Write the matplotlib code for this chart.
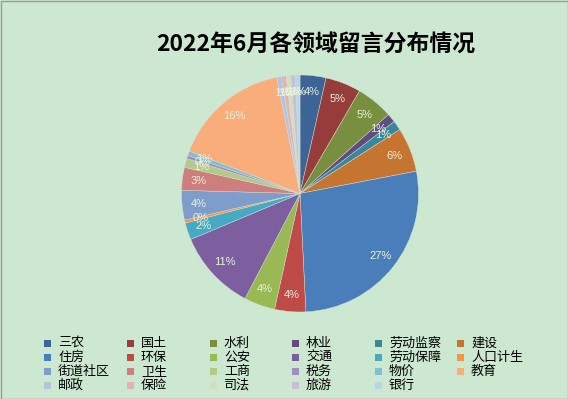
import matplotlib
matplotlib.use("Agg")
import matplotlib.pyplot as plt
from matplotlib.patches import Rectangle

categories = ["三农", "国土", "水利", "林业", "劳动监察", "建设",
              "住房", "环保", "公安", "交通", "劳动保障", "人口计生",
              "街道社区", "卫生", "工商", "税务", "物价", "教育",
              "邮政", "保险", "司法", "旅游", "银行"]
shares = [3.5, 4.8, 5.0, 1.2, 1.3, 6.0,
          27.0, 4.2, 4.2, 10.9, 2.3, 0.4,
          4.0, 3.1, 1.2, 0.45, 0.6, 15.9,
          0.63, 0.63, 0.63, 0.63, 0.6]
colors = ["#3C6496", "#963C3A", "#778F3E", "#614C7E", "#38879A", "#C67531",
          "#4A7EBB", "#BE4B48", "#98B954", "#7D5FA0", "#46AAC5", "#F59542",
          "#7F9DCB", "#CD7F7E", "#B3CA88", "#A08FBA", "#7EBFD3", "#F8AD7A",
          "#B4C4E0", "#E0B5B4", "#D1DFBD", "#C9BEDA", "#B6D8E4"]
title = "2022年6月各领域留言分布情况"

bg = "#CDE8D0"
W, H = 568, 399
fig = plt.figure(figsize=(W / 100, H / 100), dpi=100, facecolor=bg)

cx, cy, r = 300, 193.5, 118.5
ax = fig.add_axes([(cx - r) / W, (H - cy - r) / H, 2 * r / W, 2 * r / H])
ax.set_facecolor(bg)
wedges, texts, autotexts = ax.pie(
    shares, colors=colors, startangle=90, counterclock=False,
    autopct="%.0f%%", pctdistance=0.86, radius=1,
    wedgeprops=dict(edgecolor="#D8E0D8", linewidth=0.3),
    textprops=dict(color="#EAF2DC", fontsize=8, family=["Liberation Sans", "DejaVu Sans"]))
ax.set_xlim(-1, 1)
ax.set_ylim(-1, 1)
ax.set_aspect("equal")
ax.axis("off")

fig.text(316 / W, 1 - 45 / H, title, ha="center", va="center",
         fontsize=16.5, fontweight="bold",
         family=["Noto Sans CJK SC", "DejaVu Sans"], color="#000000")

# manual legend (6 columns, row-major like the reference)
col_x = [47, 130, 213, 295, 378, 460]
row_y = [343.5, 357.5, 371.5, 385.5]
sq = 7
for i, (name, c) in enumerate(zip(categories, colors)):
    row, col = divmod(i, 6)
    x = col_x[col]
    y = row_y[row]
    fig.patches.append(Rectangle(((x - sq / 2) / W, 1 - (y + sq / 2) / H), sq / W, sq / H,
                                 transform=fig.transFigure, facecolor=c, edgecolor="none"))
    fig.text((x + 11) / W, 1 - y / H, name, ha="left", va="center", fontsize=9.4,
             family=["Noto Sans CJK SC", "DejaVu Sans"], color="#000000")

fig.patches.append(Rectangle((0.5 / W, 0.5 / H), (W - 1) / W, (H - 1) / H,
                             transform=fig.transFigure, facecolor="none",
                             edgecolor="#9A9A9A", linewidth=1))

fig.savefig("out.png", dpi=100, facecolor=bg)
